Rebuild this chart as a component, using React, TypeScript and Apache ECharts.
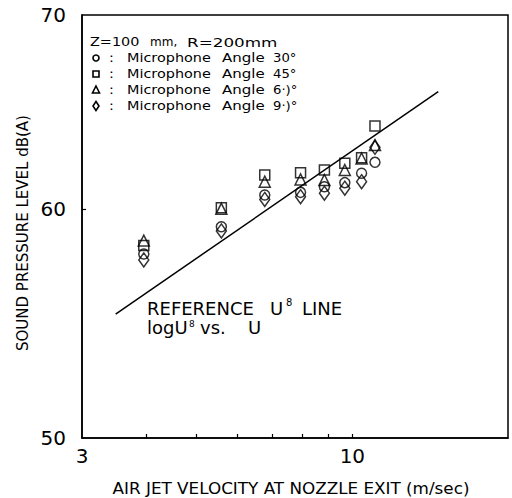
import React, { useEffect, useRef } from "react";
import * as echarts from "echarts";

// Air jet velocity at nozzle exit (m/sec)
const velocity = [3.95, 5.58, 6.77, 7.94, 8.83, 9.67, 10.42, 11.06];
// Sound pressure level dB(A) per microphone angle
const angle30 = [57.88, 59.15, 60.66, 60.79, 61.06, 61.26, 61.72, 62.26];
const angle45 = [58.27, 60.05, 61.63, 61.75, 61.88, 62.21, 62.49, 64.09];
const angle60 = [58.5, 60.0, 61.31, 61.42, 61.39, 61.88, 62.45, 63.12];
const angle90 = [57.61, 58.95, 60.45, 60.58, 60.75, 60.99, 61.31, 63.01];
// Reference U^8 line end points [U, dB]
const refLine = [
  [3.485, 55.18],
  [14.66, 65.86],
];
const xTickValues = [4, 5, 6, 7, 8, 9, 10];
const xLabelValues = [3, 10];
const yTickValues = [60];
const yLabelValues = [50, 60, 70];
const legendLabels = ["30°", "45°", "6·)°", "9·)°"];

const FONT = '"DejaVu Sans", sans-serif';

export default function App() {
  const ref = useRef<HTMLDivElement>(null);
  useEffect(() => {
    if (!ref.current) return;
    const chart = echarts.init(ref.current, null, { renderer: "svg" });
    const black = "#000";
    const mk = (arr: number[]) => velocity.map((u, i) => [u, arr[i]]);
    const hollow = { color: "transparent", borderColor: black, borderWidth: 1.5 };

    const txt = (text: string, x: number, y: number, size: number, extra: any = {}, align = "left") => ({
      type: "text",
      x,
      y,
      ...extra,
      style: {
        text,
        font: `${size}px ${FONT}`,
        fill: black,
        align,
        verticalAlign: "middle",
      },
    });

    const legendRows = [58, 74, 90, 106];
    const legendGraphics: any[] = [];
    legendGraphics.push(txt("Z=100", 90, 42, 12, { scaleX: 1.2 }));
    legendGraphics.push(txt("mm,", 150, 42, 12, { scaleX: 1.0 }));
    legendGraphics.push(txt("R=200mm", 187, 42, 12, { scaleX: 1.4 }));
    const symStyle = { fill: "none", stroke: black, lineWidth: 1.6 };
    legendRows.forEach((y, i) => {
      if (i === 0) legendGraphics.push({ type: "circle", shape: { cx: 96, cy: y, r: 3 }, style: symStyle });
      if (i === 1) legendGraphics.push({ type: "rect", shape: { x: 93, y: y - 3, width: 6, height: 6 }, style: symStyle });
      if (i === 2)
        legendGraphics.push({ type: "polygon", shape: { points: [[96, y - 4], [99.5, y + 3], [92.5, y + 3]] }, style: symStyle });
      if (i === 3)
        legendGraphics.push({ type: "polygon", shape: { points: [[96, y - 4.5], [99, y], [96, y + 4.5], [93, y]] }, style: symStyle });
      legendGraphics.push(txt(":", 109, y, 12, { scaleX: 1.2 }));
      legendGraphics.push(txt("Microphone", 127, y, 12, { scaleX: 1.2 }));
      legendGraphics.push(txt("Angle", 222, y, 12, { scaleX: 1.25 }));
      legendGraphics.push(txt(legendLabels[i], 273, y, 12, { scaleX: 1.1 }));
    });

    const annot: any[] = [
      txt("REFERENCE", 147, 308, 18),
      txt("U", 270, 308, 18),
      txt("8", 286, 302, 10),
      txt("LINE", 302, 308, 18),
      txt("logU", 147, 327.5, 18),
      txt("8", 189, 324, 9),
      txt("vs.", 200, 327.5, 18),
      txt("U", 248, 327.5, 18),
      txt("AIR JET VELOCITY AT NOZZLE EXIT (m/sec)", 291, 489, 15, { scaleX: 1.12 }, "center"),
      txt("SOUND PRESSURE LEVEL dB(A)", 23, 233, 15, { rotation: Math.PI / 2 }, "center"),
    ];

    chart.setOption({
      animation: false,
      backgroundColor: "#fff",
      grid: {
        left: 82,
        right: 4,
        top: 15,
        bottom: 60,
        show: true,
        borderColor: black,
        borderWidth: 1.5,
      },
      xAxis: {
        type: "log",
        logBase: 10,
        min: 3,
        max: 20,
        axisLine: { lineStyle: { color: black, width: 1.5 } },
        axisTick: { show: true, inside: true, length: 4, customValues: xTickValues, lineStyle: { color: black, width: 1.2 } },
        axisLabel: { customValues: xLabelValues, fontSize: 20, fontFamily: FONT, color: black, margin: 8 },
        splitLine: { show: false },
        minorTick: { show: false },
      },
      yAxis: {
        type: "log",
        logBase: 10,
        min: 50,
        max: 70,
        axisLine: { lineStyle: { color: black, width: 1.5 } },
        axisTick: { show: true, inside: true, length: 4, customValues: yTickValues, lineStyle: { color: black, width: 1.2 } },
        axisLabel: { customValues: yLabelValues, fontSize: 20, fontFamily: FONT, color: black, margin: 16 },
        splitLine: { show: false },
      },
      series: [
        {
          type: "line",
          data: refLine,
          symbol: "none",
          lineStyle: { color: black, width: 1.5 },
          silent: true,
        },
        { type: "scatter", data: mk(angle30), symbol: "circle", symbolSize: 10, itemStyle: hollow },
        { type: "scatter", data: mk(angle45), symbol: "rect", symbolSize: 10, itemStyle: hollow },
        { type: "scatter", data: mk(angle60), symbol: "triangle", symbolSize: 11, itemStyle: hollow },
        { type: "scatter", data: mk(angle90), symbol: "diamond", symbolSize: [10, 14], itemStyle: hollow },
      ],
      graphic: [...legendGraphics, ...annot],
    });
    return () => chart.dispose();
  }, []);
  return <div ref={ref} style={{ position: "fixed", left: 0, top: 0, width: 512, height: 498 }} />;
}
